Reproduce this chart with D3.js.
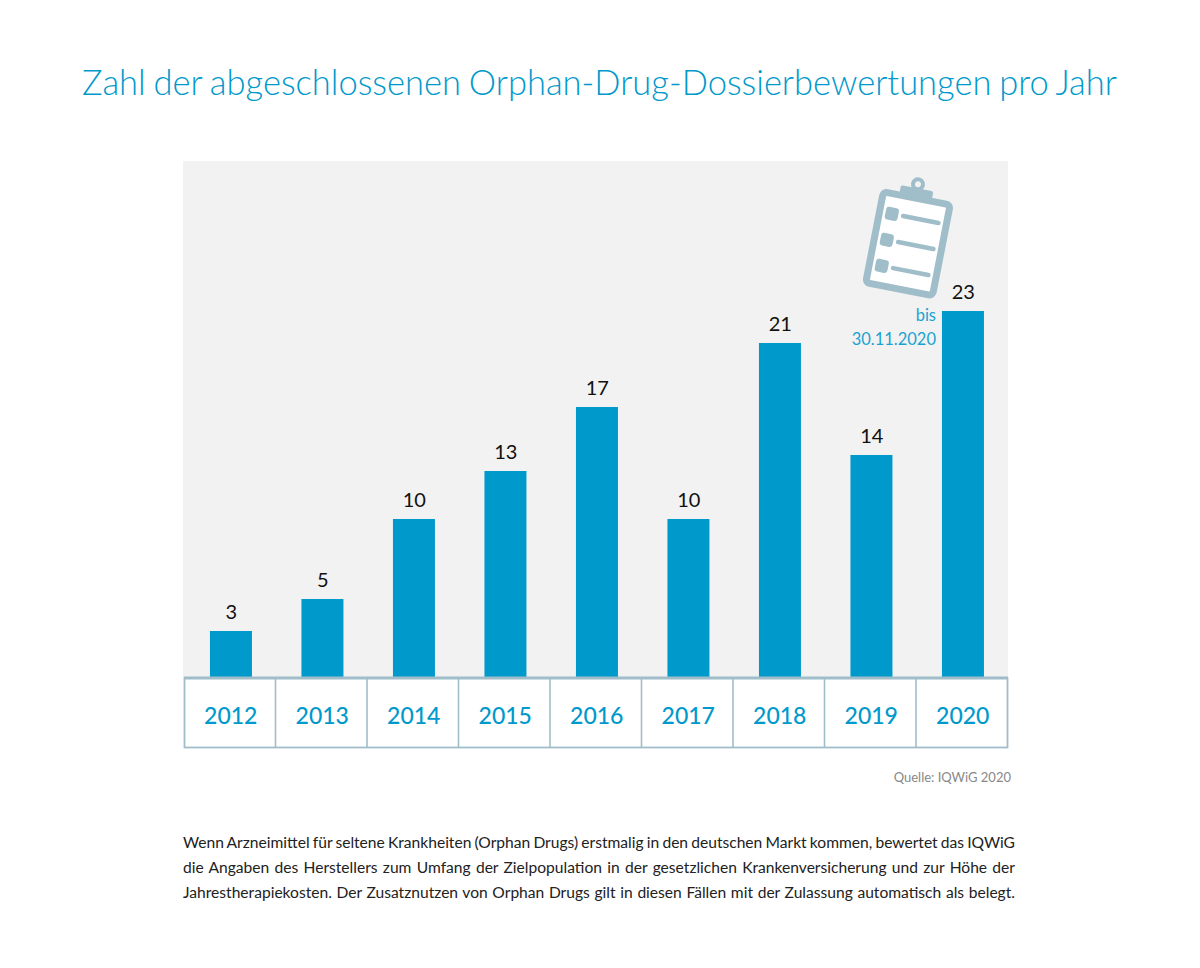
<!DOCTYPE html>
<html>
<head>
<meta charset="utf-8">
<script src="https://cdnjs.cloudflare.com/ajax/libs/d3/7.8.5/d3.min.js"></script>
<style>
  html, body { margin: 0; padding: 0; background: #fff; }
  svg { display: block; }
  text { font-family: Lato, "Open Sans", sans-serif; }
</style>
</head>
<body>
<svg id="chart" width="1200" height="968"></svg>
<script>
var years = ['2012', '2013', '2014', '2015', '2016', '2017', '2018', '2019', '2020'];
var dossiers = [3, 5, 10, 13, 17, 10, 21, 14, 23];
var titleText = 'Zahl der abgeschlossenen Orphan-Drug-Dossierbewertungen pro Jahr';
var sourceText = 'Quelle: IQWiG 2020';
var noteLines = ['bis', '30.11.2020'];
var bodyLines = [
  'Wenn Arzneimittel für seltene Krankheiten (Orphan Drugs) erstmalig in den deutschen Markt kommen, bewertet das IQWiG',
  'die Angaben des Herstellers zum Umfang der Zielpopulation in der gesetzlichen Krankenversicherung und zur Höhe der',
  'Jahrestherapiekosten. Der Zusatznutzen von Orphan Drugs gilt in diesen Fällen mit der Zulassung automatisch als belegt.'
];

var blue = '#0099cc';
var frame = '#a0bdca';

var svg = d3.select('#chart');

// spread words so a line fills the given width
function justify(sel, width) {
  sel.each(function () {
    var n = this.textContent.split(' ').length - 1;
    var w = this.getComputedTextLength();
    d3.select(this).attr('word-spacing', (width - w) / n);
  });
}

var title = svg.append('text')
  .attr('x', 82).attr('y', 95)
  .attr('font-size', 34.5)
  .attr('font-weight', 300)
  .attr('fill', blue)
  .text(titleText);
justify(title, 1035);

// plot background
svg.append('rect')
  .attr('x', 183).attr('y', 161)
  .attr('width', 825).attr('height', 517)
  .attr('fill', '#f2f2f2');

var x = d3.scaleBand().domain(years).range([184, 1007.5]);
var y = d3.scaleLinear().domain([0, 23]).range([679, 311]);

svg.selectAll('.bar')
  .data(dossiers)
  .enter()
  .append('rect')
  .attr('class', 'bar')
  .attr('x', function (d, i) { return x(years[i]) + x.bandwidth() / 2 + 1.2 - 21; })
  .attr('y', function (d) { return y(d); })
  .attr('width', 42)
  .attr('height', function (d) { return y(0) - y(d); })
  .attr('fill', blue);

svg.selectAll('.val')
  .data(dossiers)
  .enter()
  .append('text')
  .attr('class', 'val')
  .attr('x', function (d, i) { return x(years[i]) + x.bandwidth() / 2 + 1.5; })
  .attr('y', function (d) { return y(d) - 12.5; })
  .attr('text-anchor', 'middle')
  .attr('font-size', 20)
  .attr('fill', '#111')
  .text(function (d) { return d; });

// year table under the bars
svg.append('rect')
  .attr('x', 184).attr('y', 678)
  .attr('width', 823.5).attr('height', 69)
  .attr('fill', '#fff');

var xAxis = d3.axisBottom(x).tickSize(0).tickPadding(0);
var axisG = svg.append('g')
  .attr('transform', 'translate(1,678)')
  .call(xAxis);
axisG.select('.domain').remove();
axisG.selectAll('text')
  .attr('y', 46)
  .attr('dy', 0)
  .attr('font-size', 23)
  .attr('font-family', 'Lato, "Open Sans", sans-serif')
  .attr('font-weight', 500)
  .attr('fill', blue);

svg.selectAll('.cell')
  .data(years.slice(1))
  .enter()
  .append('line')
  .attr('class', 'cell')
  .attr('x1', function (d) { return x(d); })
  .attr('x2', function (d) { return x(d); })
  .attr('y1', 678).attr('y2', 747)
  .attr('stroke', frame)
  .attr('stroke-width', 1.6);

svg.append('rect')
  .attr('x', 184.5).attr('y', 678)
  .attr('width', 823).attr('height', 69.5)
  .attr('fill', 'none')
  .attr('stroke', frame)
  .attr('stroke-width', 1.8);

svg.append('line')
  .attr('x1', 184).attr('x2', 1008)
  .attr('y1', 678).attr('y2', 678)
  .attr('stroke', frame)
  .attr('stroke-width', 3);

// clipboard icon
var icon = svg.append('g').attr('transform', 'translate(908,243.5) rotate(11)');
icon.append('rect')
  .attr('x', -34).attr('y', -46).attr('width', 68).attr('height', 92.5)
  .attr('rx', 4)
  .attr('fill', '#fff')
  .attr('stroke', frame)
  .attr('stroke-width', 7);
icon.append('rect')
  .attr('x', -18).attr('y', -56).attr('width', 33).attr('height', 9)
  .attr('rx', 2)
  .attr('fill', frame);
icon.append('circle')
  .attr('cx', -1.5).attr('cy', -60).attr('r', 5)
  .attr('fill', '#f2f2f2')
  .attr('stroke', frame)
  .attr('stroke-width', 4);
[-26, 0.5, 27].forEach(function (rowY) {
  icon.append('rect')
    .attr('x', -28).attr('y', rowY - 6.5).attr('width', 13).attr('height', 13)
    .attr('rx', 3)
    .attr('fill', frame);
  icon.append('line')
    .attr('x1', -10).attr('x2', 26)
    .attr('y1', rowY).attr('y2', rowY)
    .attr('stroke', frame)
    .attr('stroke-width', 4.5)
    .attr('stroke-linecap', 'round');
});

// date note beside the last bar
svg.selectAll('.note')
  .data(noteLines)
  .enter()
  .append('text')
  .attr('class', 'note')
  .attr('x', 936)
  .attr('y', function (d, i) { return 321 + i * 24; })
  .attr('text-anchor', 'end')
  .attr('font-size', 16.5)
  .attr('fill', '#1aa3d1')
  .text(function (d) { return d; });

svg.append('text')
  .attr('x', 1011).attr('y', 782)
  .attr('text-anchor', 'end')
  .attr('font-size', 13)
  .attr('fill', '#888')
  .text(sourceText);

var body = svg.selectAll('.body')
  .data(bodyLines)
  .enter()
  .append('text')
  .attr('class', 'body')
  .attr('x', 183)
  .attr('y', function (d, i) { return 848 + i * 25; })
  .attr('font-size', 15.6)
  .attr('fill', '#222')
  .text(function (d) { return d; });
justify(body, 832);
</script>
</body>
</html>
